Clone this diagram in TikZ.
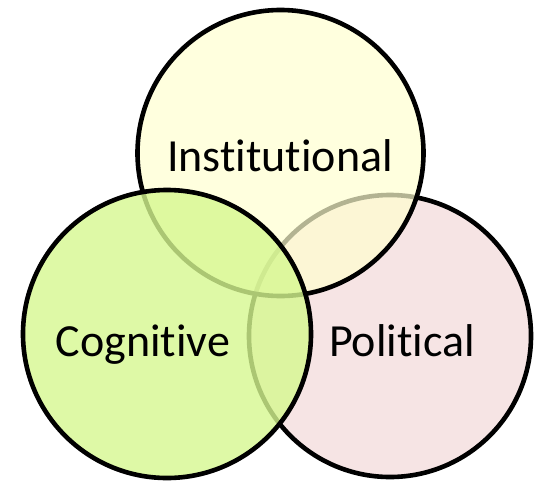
\documentclass[tikz,border=0pt]{standalone}
\usepackage{fontspec}
\setmainfont{Carlito}[Ligatures=NoCommon]
\begin{document}
\definecolor{instfill}{RGB}{255,255,208}
\definecolor{polfill}{RGB}{246,228,228}
\definecolor{cogfill}{RGB}{214,248,144}
\begin{tikzpicture}[x=1pt,y=-1pt,
  setcircle/.style={circle, draw=black, line width=4.6pt, inner sep=0pt, minimum size=286pt},
  setlabel/.style={anchor=base, inner sep=0pt, font=\fontsize{46}{50}\selectfont}]
\useasboundingbox (0,0) rectangle (545,482);
% Political sits at the back, the other two are see-through
\node[setcircle, fill=polfill, minimum size=282pt] (pol) at (390,336) {};
\node[setcircle, fill=instfill, fill opacity=0.7] (inst) at (280.5,153) {};
\node[setcircle, fill=cogfill, fill opacity=0.8, minimum size=288pt] (cog) at (167,334) {};
\node[setlabel] (instlab) at (280,171) {Institutional};
\node[setlabel] (coglab) at (143,356) {Cognitive};
\node[setlabel] (pollab) at (402,356) {Political};
\end{tikzpicture}
\end{document}
